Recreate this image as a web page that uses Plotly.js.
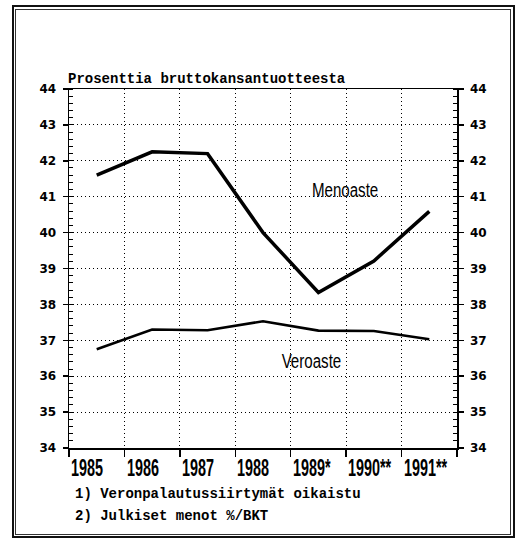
<!DOCTYPE html>
<html>
<head>
<meta charset="utf-8">
<script src="https://cdn.plot.ly/plotly-3.0.1.min.js"></script>
<style>
  html, body { margin: 0; padding: 0; background: #fff; }
  #wrap { position: relative; width: 516px; height: 538px; overflow: hidden; }
  #chart { position: absolute; left: 0; top: 0; width: 516px; height: 538px; }
  .frame { position: absolute; pointer-events: none; box-sizing: border-box; }
</style>
</head>
<body>
<div id="wrap">
  <div id="chart"></div>
  <div class="frame" style="left:12px; top:5px; width:503px; height:533px; border:2px solid #111;"></div>
  <div class="frame" style="left:15px; top:9px; width:496px; height:526px; border:1px solid #333;"></div>
</div>
<script>
// ---- data ----
const years = ['1985', '1986', '1987', '1988', '1989*', '1990**', '1991**'];
const menoaste = [41.6, 42.25, 42.2, 40.0, 38.33, 39.21, 40.59];
const veroaste = [36.75, 37.3, 37.28, 37.53, 37.27, 37.26, 37.03];
const yTickValues = [34, 35, 36, 37, 38, 39, 40, 41, 42, 43, 44];
const titleText = 'Prosenttia bruttokansantuotteesta';
const seriesLabels = ['Menoaste', 'Veroaste'];
const footnotes = ['1) Veronpalautussiirtymät oikaistu', '2) Julkiset menot %/BKT'];

// category positions: each year sits in the middle of its interval
const xCenters = years.map((_, i) => i + 0.5);
const xBounds = years.map((_, i) => i).concat([years.length]);

const monoFont = {family: 'Liberation Mono, Courier New, monospace', size: 14, color: '#000', weight: 'bold'};
const sansFamily = 'Liberation Sans, Arial, sans-serif';
const tickFont = {family: 'DejaVu Sans, Arial, sans-serif', size: 12, color: '#000', weight: 'bold'};

const traces = [
  {x: xCenters, y: menoaste, type: 'scatter', mode: 'lines', name: seriesLabels[0],
   line: {color: '#000', width: 3.5}, yaxis: 'y', hoverinfo: 'skip'},
  {x: xCenters, y: veroaste, type: 'scatter', mode: 'lines', name: seriesLabels[1],
   line: {color: '#000', width: 2.6}, yaxis: 'y2', hoverinfo: 'skip'}
];

const yCommon = {
  range: [34, 44], tickvals: yTickValues, ticks: 'outside', ticklen: 5, tickwidth: 1.5,
  tickcolor: '#000', showline: true, linecolor: '#000', linewidth: 1.5, zeroline: false,
  tickfont: tickFont, ticklabelstandoff: 4, fixedrange: true,
  minor: {dtick: 0.2, ticks: 'inside', ticklen: 4, tickwidth: 1, tickcolor: '#000', showgrid: false}
};

const annotations = [];
years.forEach((lab, i) => {
  annotations.push({x: xBounds[i] + 0.02, y: -0.055, xref: 'x', yref: 'paper', text: lab,
    showarrow: false, xanchor: 'left', yanchor: 'middle', borderpad: 0,
    font: {family: sansFamily, size: 24, color: '#000', weight: 'bold'}});
});
annotations.push({x: 4.98, y: 41.2, xref: 'x', yref: 'y', text: seriesLabels[0], showarrow: false,
  xanchor: 'center', yanchor: 'middle', font: {family: sansFamily, size: 21, color: '#000'}});
annotations.push({x: 4.38, y: 36.45, xref: 'x', yref: 'y', text: seriesLabels[1], showarrow: false,
  xanchor: 'center', yanchor: 'middle', font: {family: sansFamily, size: 21, color: '#000'}});
annotations.push({x: 0.01, y: -0.129, xref: 'paper', yref: 'paper', text: footnotes[0], showarrow: false,
  xanchor: 'left', yanchor: 'middle', font: monoFont});
annotations.push({x: 0.01, y: -0.19, xref: 'paper', yref: 'paper', text: footnotes[1], showarrow: false,
  xanchor: 'left', yanchor: 'middle', font: monoFont});

const gridStyle = {showgrid: true, griddash: '1px,3px', gridcolor: '#000', gridwidth: 1};

const layout = {
  width: 516, height: 538,
  margin: {l: 69, r: 59, t: 89, b: 90, pad: 0},
  paper_bgcolor: '#fff', plot_bgcolor: '#fff',
  showlegend: false,
  title: {text: titleText, x: 68 / 516, xref: 'container', xanchor: 'left',
          y: 1 - 78 / 538, yref: 'container', yanchor: 'middle', font: monoFont},
  xaxis: Object.assign({
    range: [0, years.length], tickvals: xBounds, showticklabels: false,
    ticks: 'outside', ticklen: 7, tickwidth: 1.5, tickcolor: '#000',
    showline: true, mirror: true, linecolor: '#000', linewidth: 1.5,
    zeroline: false, fixedrange: true
  }, gridStyle),
  yaxis: Object.assign({}, yCommon, {side: 'left'}, gridStyle),
  yaxis2: Object.assign({}, yCommon, {side: 'right', overlaying: 'y', anchor: 'x', showgrid: false}),
  annotations: annotations
};

// condense label glyphs horizontally (the original uses a narrow typeface)
function squeeze(g, t, factor, keepLeft) {
  const bb = t.getBBox();
  const ox = keepLeft ? bb.x : bb.x + bb.width / 2;
  const prev = t.getAttribute('transform') || '';
  t.setAttribute('transform', prev + ' translate(' + ox + ',0) scale(' + factor + ',1) translate(' + (-ox) + ',0)');
  const r = g.querySelector('rect.bg');
  if (r) {
    const rx = parseFloat(r.getAttribute('x')) || 0;
    const rw = parseFloat(r.getAttribute('width')) || bb.width;
    const cut = rw * (1 - factor);
    if (!keepLeft) r.setAttribute('x', rx + cut / 2);
    r.setAttribute('width', Math.max(rw - cut, 1));
  }
}
function condense(gd) {
  gd.querySelectorAll('.annotation').forEach(g => {
    const idx = parseInt(g.getAttribute('data-index'), 10);
    const t = g.querySelector('text.annotation-text');
    if (!t || isNaN(idx)) return;
    if (idx < years.length) squeeze(g, t, 0.6, true);
    else if (idx < years.length + 2) squeeze(g, t, 0.72, false);
  });
}

Plotly.newPlot('chart', traces, layout, {staticPlot: true, displayModeBar: false})
  .then(gd => condense(gd));
</script>
</body>
</html>
